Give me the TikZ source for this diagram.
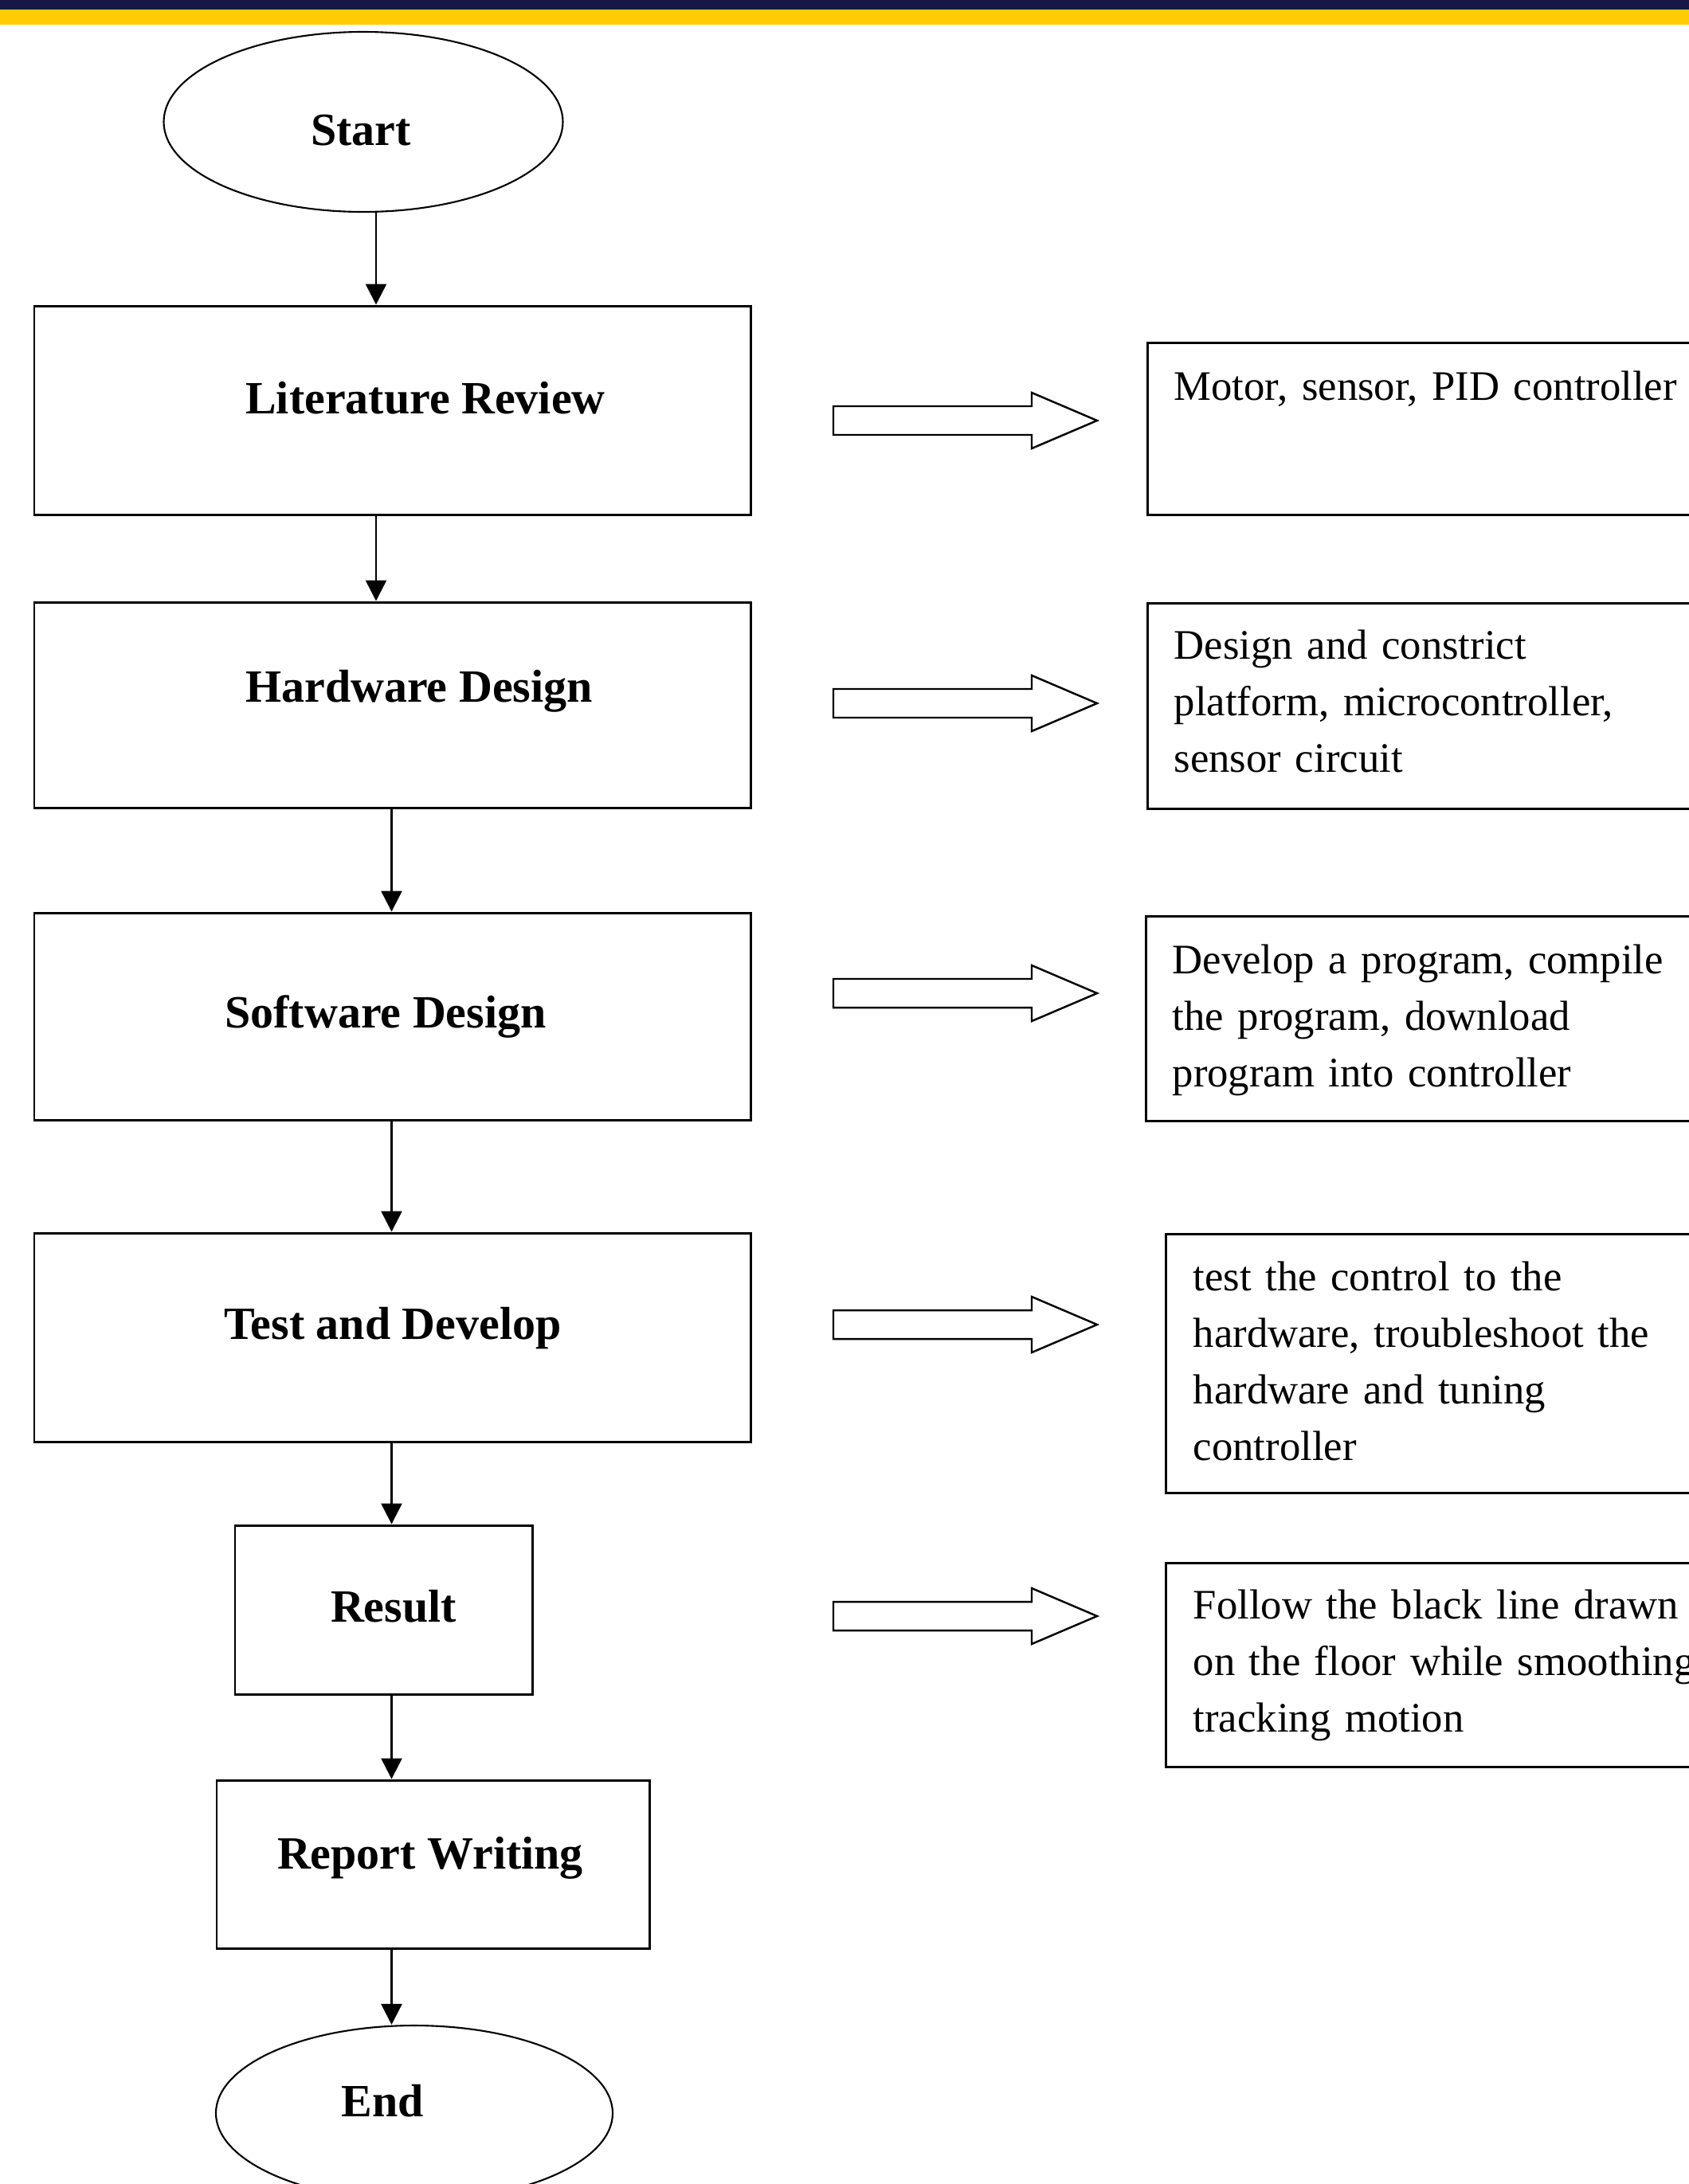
\documentclass[tikz,border=0pt]{standalone}
\usepackage{fontspec}
\setmainfont{Liberation Serif}
\usepackage{tikz}
\usetikzlibrary{calc,positioning,arrows.meta,shapes.geometric}
\definecolor{barnavy}{HTML}{151845}
\definecolor{bargold}{HTML}{FFCC00}

\begin{document}
\begin{tikzpicture}[
  stage/.style={draw, rectangle, line width=0.85pt, inner sep=0pt},
  term/.style={draw, ellipse, line width=0.6pt, inner sep=0pt},
  lbl/.style={font=\bfseries\fontsize{16.5}{20}\selectfont, text height=0.39cm, text depth=0pt, inner sep=0pt},
  notebox/.style={draw, rectangle, line width=0.85pt, anchor=north west, minimum width=8cm, inner sep=0pt},
  note/.style={font=\fontsize{15}{20.2}\selectfont, anchor=base west, inner sep=0pt, text width=7.5cm, align=left},
  flow/.style={line width=0.7pt, -{Triangle[width=0.26cm,length=0.26cm]}},
  hollow/.style={draw=black, fill=white, line width=0.7pt, line join=miter}
]
  \useasboundingbox (0,0) rectangle (21.2,-27.42);
  \clip (0,0) rectangle (21.2,-27.42);

  % header stripe
  \fill[barnavy] (0,0) rectangle (21.2,-0.12);
  \fill[bargold] (0,-0.12) rectangle (21.2,-0.31);

  % main column
  \node[term, minimum width=5.01cm, minimum height=2.26cm,
        label={[lbl, xshift=-0.3mm, yshift=-1.0mm]center:Start}] (start) at (4.56,-1.53) {};
  \node[stage, minimum width=8.99cm, minimum height=2.62cm,
        label={[lbl, xshift=4.15mm, yshift=1.5mm]center:Literature Review}] (lit) at (4.925,-5.15) {};
  \node[stage, minimum width=8.99cm, minimum height=2.58cm,
        label={[lbl, xshift=3.35mm, yshift=2.3mm]center:Hardware Design}] (hw) at (4.925,-8.85) {};
  \node[stage, minimum width=8.99cm, minimum height=2.60cm,
        label={[lbl, xshift=-0.85mm, yshift=0.5mm]center:Software Design}] (sw) at (4.925,-12.76) {};
  \node[stage, minimum width=8.99cm, minimum height=2.62cm,
        label={[lbl, xshift=0.05mm, yshift=1.7mm]center:Test and Develop}] (test) at (4.925,-16.79) {};
  \node[stage, minimum width=3.73cm, minimum height=2.12cm,
        label={[lbl, xshift=1.25mm, yshift=0.4mm]center:Result}] (result) at (4.815,-20.21) {};
  \node[stage, minimum width=5.43cm, minimum height=2.11cm,
        label={[lbl, xshift=-0.35mm, yshift=1.35mm]center:Report Writing}] (report) at (5.435,-23.405) {};
  \node[term, minimum width=4.98cm, minimum height=2.20cm,
        label={[lbl, xshift=-4.0mm, yshift=1.5mm]center:End}] (end) at (5.20,-26.53) {};

  \coordinate (colA) at (4.72,0);
  \coordinate (colB) at (4.915,0);
  \draw[flow] (start.south -| colA) -- (lit.north -| colA);
  \draw[flow] (lit.south -| colA) -- (hw.north -| colA);
  \draw[flow] (hw.south -| colB) -- (sw.north -| colB);
  \draw[flow] (sw.south -| colB) -- (test.north -| colB);
  \draw[flow] (test.south -| colB) -- (result.north -| colB);
  \draw[flow] (result.south -| colB) -- (report.north -| colB);
  \draw[flow] (report.south -| colB) -- (end.north -| colB);

  % hollow block arrows
  \foreach \y in {5.28,8.83,12.47,16.63,20.29}{
    \draw[hollow] (10.46,-\y) ++(0,0.18) -- ++(2.49,0) -- ++(0,0.17) -- ++(0.82,-0.35)
      -- ++(-0.82,-0.35) -- ++(0,0.17) -- ++(-2.49,0) -- cycle;
  }

  % notes on the right
  \node[notebox, minimum height=2.16cm] (litnote) at (14.39,-4.29) {};
  \node[notebox, minimum height=2.58cm] (hwnote) at (14.39,-7.56) {};
  \node[notebox, minimum height=2.57cm] (swnote) at (14.37,-11.49) {};
  \node[notebox, minimum height=3.25cm] (testnote) at (14.62,-15.48) {};
  \node[notebox, minimum height=2.56cm] (resnote) at (14.62,-19.61) {};

  \node[note] (litnotetxt) at ($(litnote.north west)+(0.34,-0.73)$) {Motor, sensor, PID controller};
  \node[note] (hwnotetxt) at ($(hwnote.north west)+(0.34,-0.71)$) {Design and constrict\\platform, microcontroller,\\sensor circuit};
  \node[note] (swnotetxt) at ($(swnote.north west)+(0.34,-0.73)$) {Develop a program, compile\\the program, download\\program into controller};
  \node[note] (testnotetxt) at ($(testnote.north west)+(0.35,-0.72)$) {test the control to the\\hardware, troubleshoot the\\hardware and tuning\\controller};
  \node[note] (resnotetxt) at ($(resnote.north west)+(0.35,-0.71)$) {Follow the black line drawn\\on the floor while smoothing\\tracking motion};
\end{tikzpicture}
\end{document}
